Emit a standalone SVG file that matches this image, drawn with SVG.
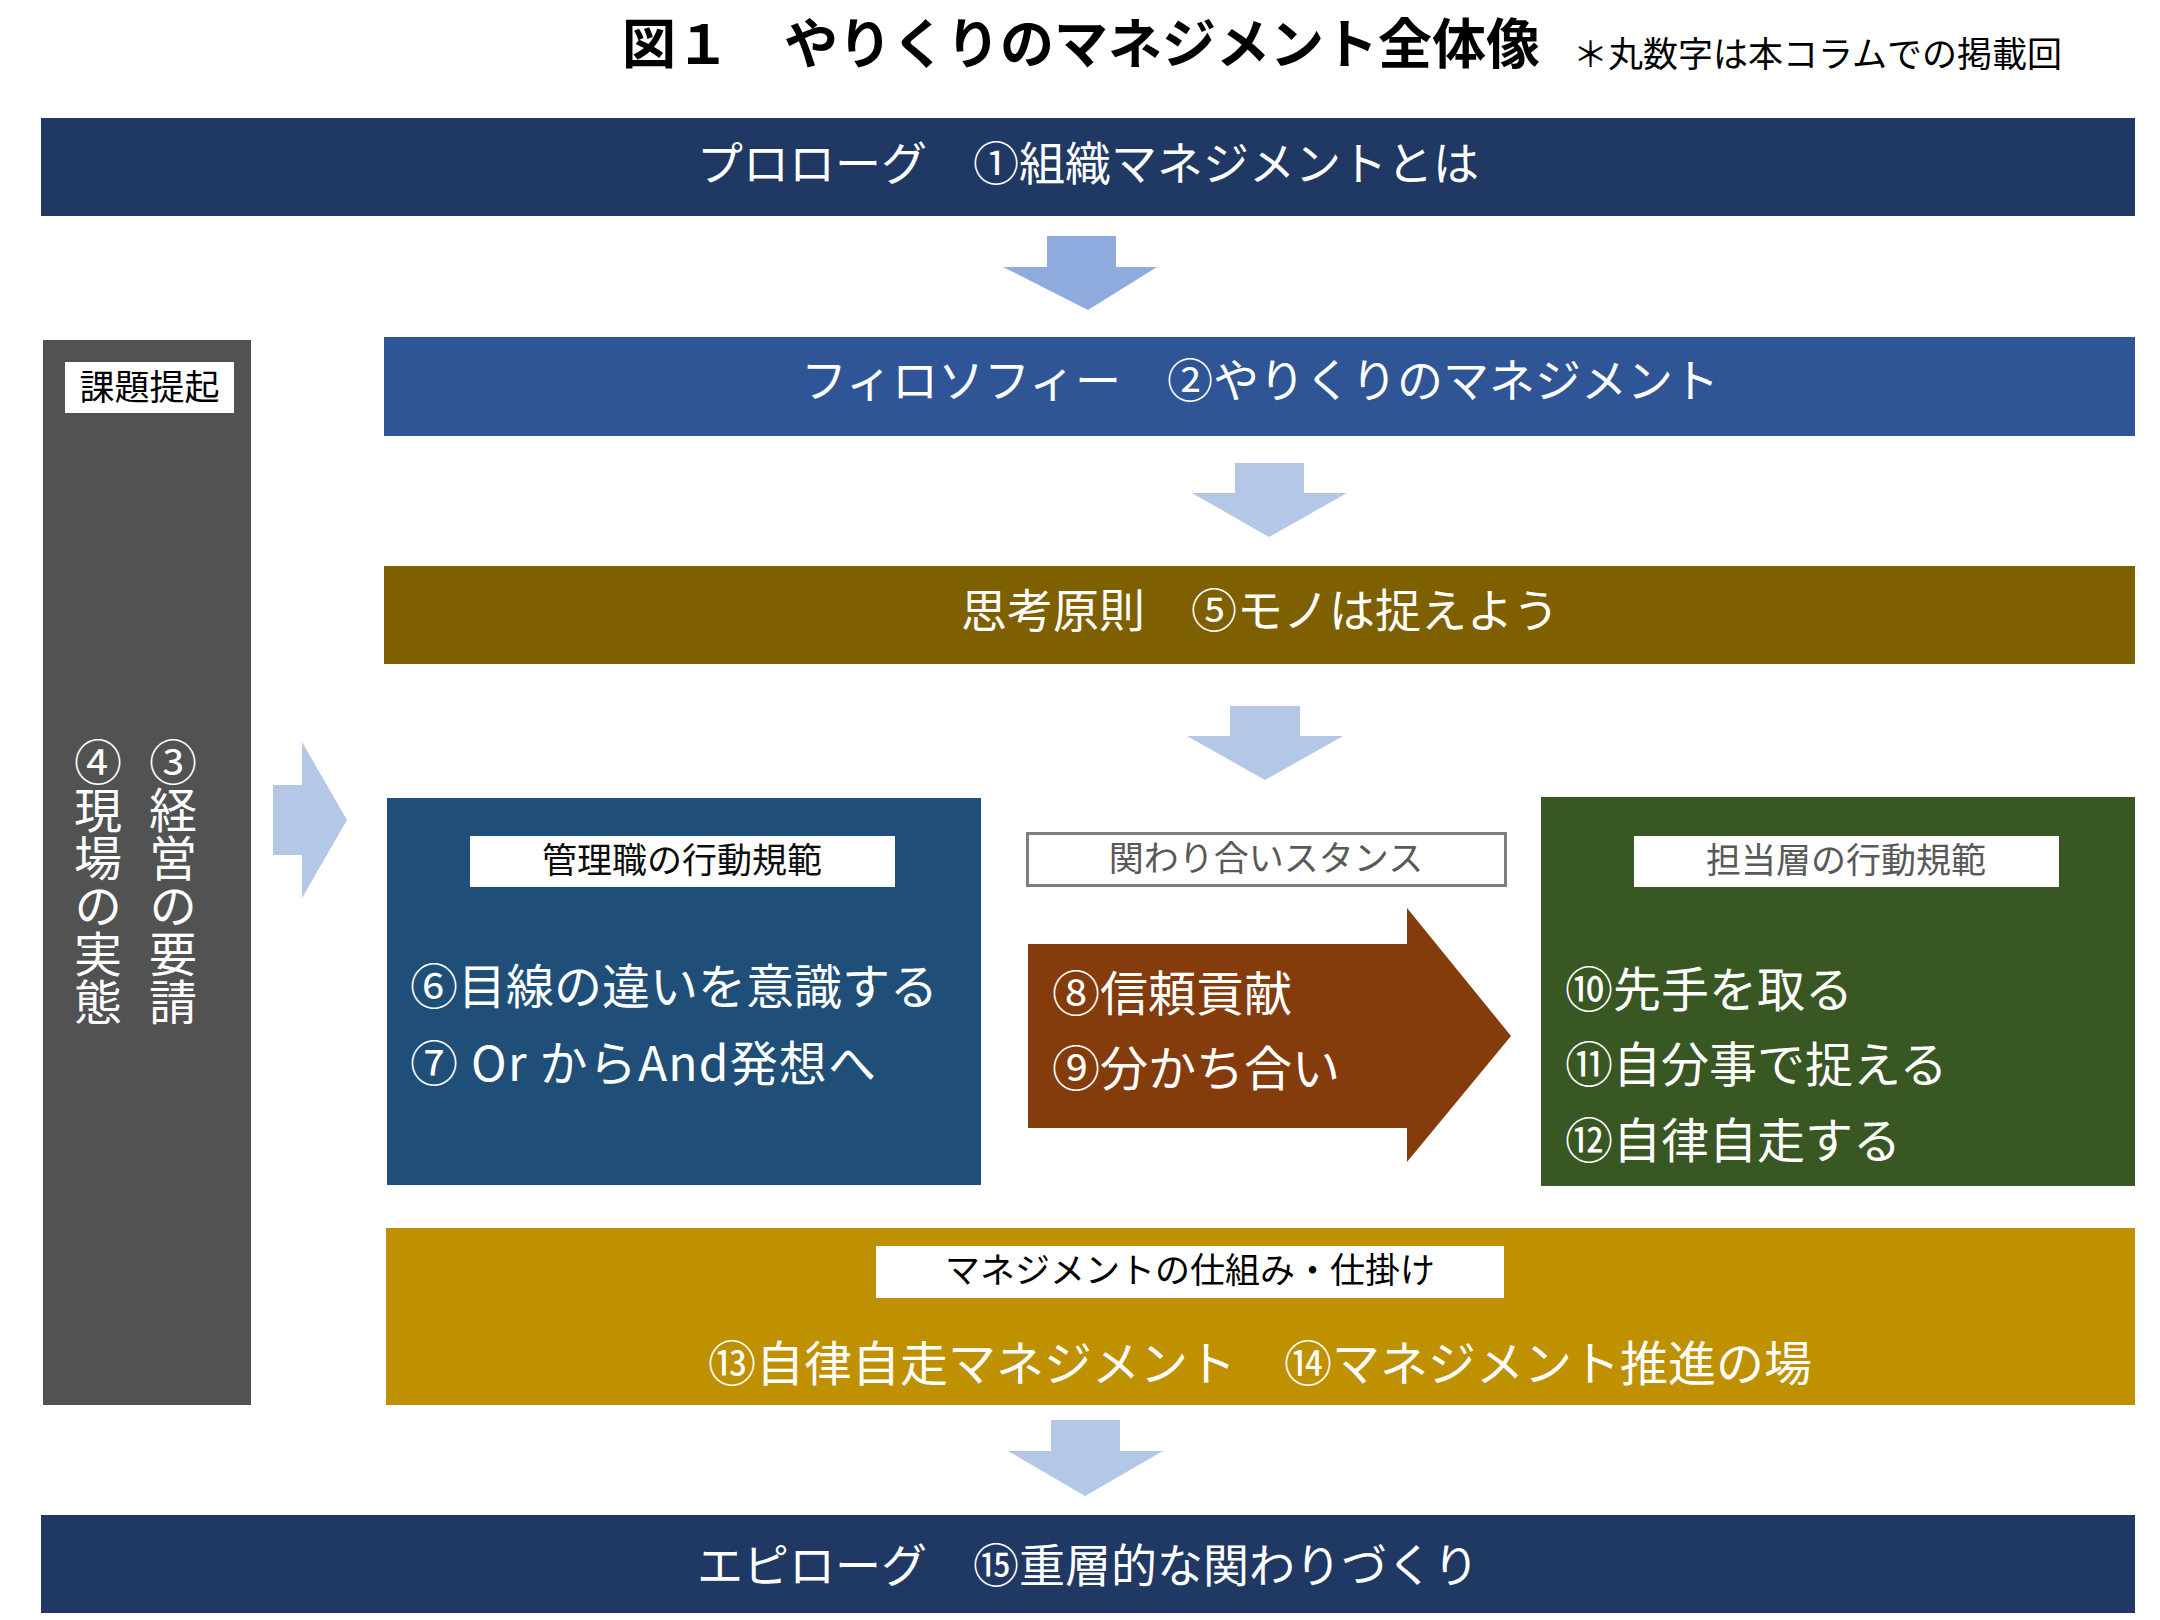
<svg xmlns="http://www.w3.org/2000/svg" width="2160" height="1620" viewBox="0 0 2160 1620">
<style>
text{font-family:"Noto Sans CJK JP","Noto Sans",sans-serif;dominant-baseline:central}
.title{font-size:54px;font-weight:700;fill:#000}
.sub{font-size:35px;fill:#000}
.band{font-size:46px;fill:#fff;text-anchor:middle}
.item{font-size:48px;fill:#fff}
.lab{font-size:35px;text-anchor:middle}
.vert{font-size:48px;fill:#fff;text-anchor:start;writing-mode:vertical-rl}
.arrL{fill:#B4C7E7}
.arrD{fill:#8FAADC}
</style>
<rect width="2160" height="1620" fill="#fff"/>
<g id="title">
<text class="title" x="622" y="40">図１　やりくりのマネジメント全体像</text>
<text class="sub" x="1573" y="51">＊丸数字は本コラムでの掲載回</text>
</g>
<g id="connectors">
<polygon class="arrD" points="1047,236 1116,236 1116,267 1157,267 1088,310 1003,267 1047,267"/>
<polygon class="arrL" points="1235,463 1304,463 1304,493 1347,493 1269,537 1192,493 1235,493"/>
<polygon class="arrL" points="1230,706 1300,706 1300,736 1343,736 1265,780 1187,736 1230,736"/>
<polygon class="arrL" points="1051,1420 1120,1420 1120,1451 1163,1451 1085,1496 1008,1451 1051,1451"/>
<polygon class="arrL" points="273,785 302,785 302,742 347,820 302,898 302,855 273,855"/>
</g>
<g id="prologue">
<rect x="41" y="118" width="2094" height="98" fill="#203864"/>
<text class="band" x="1088" y="160">プロローグ　①組織マネジメントとは</text>
</g>
<g id="philosophy">
<rect x="384" y="337" width="1751" height="99" fill="#2F5597"/>
<text class="band" x="1260" y="377">フィロソフィー　②やりくりのマネジメント</text>
</g>
<g id="thinking">
<rect x="384" y="566" width="1751" height="98" fill="#7F6000"/>
<text class="band" x="1260" y="607">思考原則　⑤モノは捉えよう</text>
</g>
<g id="issues">
<rect x="43" y="340" width="208" height="1065" fill="#525252"/>
<rect x="65" y="362" width="169" height="51" fill="#fff"/>
<text class="lab" x="149.5" y="384" fill="#000">課題提起</text>
<text class="vert" x="173" y="738">③経営の要請</text>
<text class="vert" x="98" y="738">④現場の実態</text>
</g>
<g id="manager">
<rect x="387" y="798" width="594" height="387" fill="#1F4E79"/>
<rect x="470" y="836" width="425" height="51" fill="#fff"/>
<text class="lab" x="682" y="857" fill="#0D0D0D">管理職の行動規範</text>
<text class="item" x="410" y="983">⑥目線の違いを意識する</text>
<text class="item" x="410" y="1060" textLength="466" lengthAdjust="spacing">⑦ Or からAnd発想へ</text>
</g>
<g id="stance">
<rect x="1027.5" y="833.5" width="478" height="52" fill="#fff" stroke="#7F7F7F" stroke-width="3"/>
<text class="lab" x="1266" y="855" fill="#595959">関わり合いスタンス</text>
<polygon points="1028,944 1407,944 1407,908 1511,1036 1407,1162 1407,1128 1028,1128" fill="#843C0C"/>
<text class="item" x="1052" y="990">⑧信頼貢献</text>
<text class="item" x="1052" y="1065">⑨分かち合い</text>
</g>
<g id="staff">
<rect x="1541" y="797" width="594" height="389" fill="#385723"/>
<rect x="1634" y="836" width="425" height="51" fill="#fff"/>
<text class="lab" x="1846" y="857" fill="#595959">担当層の行動規範</text>
<text class="item" x="1565" y="986">⑩先手を取る</text>
<text class="item" x="1565" y="1061">⑪自分事で捉える</text>
<text class="item" x="1565" y="1137">⑫自律自走する</text>
</g>
<g id="mechanism">
<rect x="386" y="1228" width="1749" height="177" fill="#BF9000"/>
<rect x="876" y="1246" width="628" height="52" fill="#fff"/>
<text class="lab" x="1190" y="1267" fill="#000">マネジメントの仕組み・仕掛け</text>
<text class="band" x="1260" y="1360" style="font-size:48px">⑬自律自走マネジメント　⑭マネジメント推進の場</text>
</g>
<g id="epilogue">
<rect x="41" y="1515" width="2094" height="98" fill="#203864"/>
<text class="band" x="1088" y="1562">エピローグ　⑮重層的な関わりづくり</text>
</g>
</svg>
